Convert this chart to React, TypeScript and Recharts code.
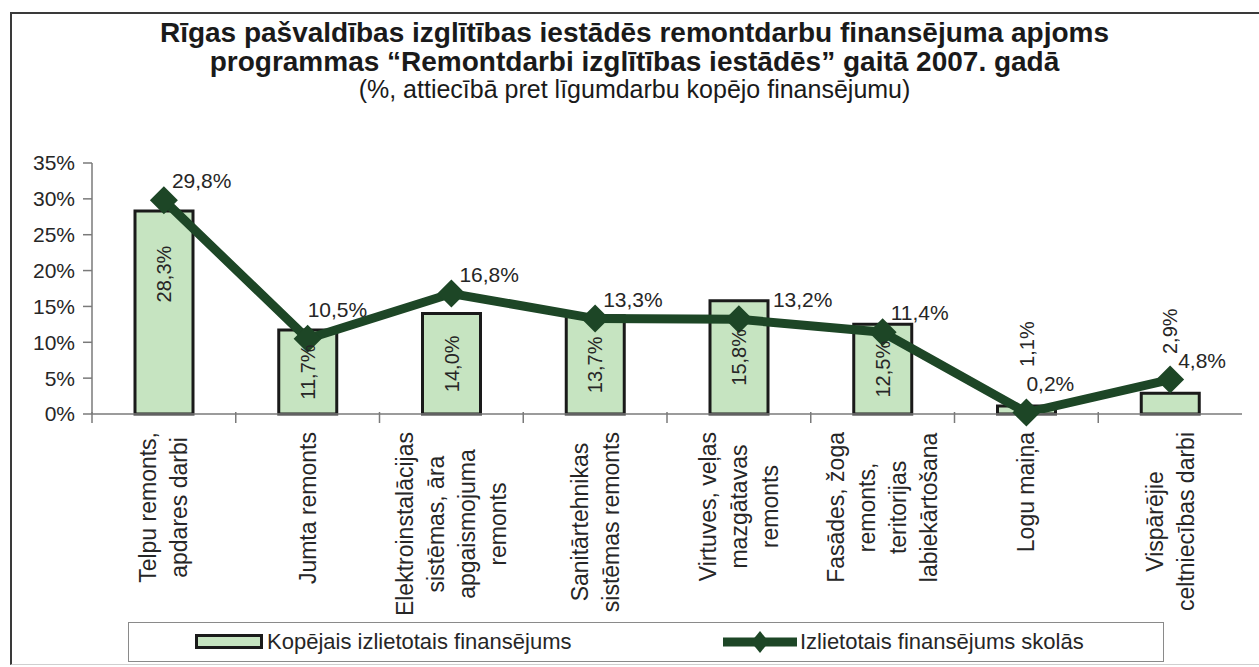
import React from 'react';
import { ComposedChart, Bar, Line, XAxis, YAxis, LabelList } from 'recharts';

const categories: string[][] = [
  ['Telpu remonts,', 'apdares darbi'],
  ['Jumta remonts'],
  ['Elektroinstalācijas', 'sistēmas, āra', 'apgaismojuma', 'remonts'],
  ['Sanitārtehnikas', 'sistēmas remonts'],
  ['Virtuves, veļas', 'mazgātavas', 'remonts'],
  ['Fasādes, žoga', 'remonts,', 'teritorijas', 'labiekārtošana'],
  ['Logu maiņa'],
  ['Vispārējie', 'celtniecības darbi'],
];
const totalShare = [28.3, 11.7, 14.0, 13.7, 15.8, 12.5, 1.1, 2.9];
const schoolShare = [29.8, 10.5, 16.8, 13.3, 13.2, 11.4, 0.2, 4.8];
const yTicks = [0, 5, 10, 15, 20, 25, 30, 35];

const seriesNames = ['Kopējais izlietotais finansējums', 'Izlietotais finansējums skolās'];

const data = categories.map((lines, i) => ({
  name: lines.join(' '),
  total: totalShare[i],
  school: schoolShare[i],
}));

const W = 1259;
const H = 667;
const PLOT_LEFT = 92;
const PLOT_RIGHT = 1242;
const PLOT_TOP = 163;
const PLOT_BOTTOM = 414;
const X_AXIS_H = 200;
const BAND = (PLOT_RIGHT - PLOT_LEFT) / categories.length;

const FONT = '"Liberation Sans", Arial, Helvetica, sans-serif';
const TEXT = '#262626';
const AXIS = '#7a7a7a';
const BAR_FILL = '#c6e4c1';
const LINE_COLOR = '#1d4626';

const fmt = (v: number) => v.toFixed(1).replace('.', ',') + '%';

let ctx: CanvasRenderingContext2D | null = null;
const measure = (s: string, size: number) => {
  if (!ctx && typeof document !== 'undefined') {
    ctx = document.createElement('canvas').getContext('2d');
  }
  if (!ctx) return s.length * size * 0.5;
  ctx.font = `${size}px ${FONT}`;
  return ctx.measureText(s).width;
};

const XTick = (props: any) => {
  const { x, index } = props;
  const lines = categories[index] || [String(props.payload?.value)];
  const size = 23;
  const lineH = 31;
  const longest = Math.max(...lines.map((l) => measure(l, size)));
  const cy = PLOT_BOTTOM + 18 + longest / 2;
  const n = lines.length;
  const bx = x - BAND / 2;
  return (
    <g>
      <line x1={bx} x2={bx} y1={PLOT_BOTTOM - 2} y2={PLOT_BOTTOM + 9} stroke={AXIS} strokeWidth={1.5} />
      <text
        transform={`translate(${x},${cy}) rotate(-90)`}
        textAnchor="middle"
        fontSize={size}
        fontFamily={FONT}
        fill={TEXT}
      >
        {lines.map((l, i) => (
          <tspan key={i} x={0} y={(i - (n - 1) / 2) * lineH + 8}>
            {l}
          </tspan>
        ))}
      </text>
    </g>
  );
};

const BarValue = (props: any) => {
  const { x, y, width, height, value } = props;
  const cx = x + width / 2;
  const cy = height > 60 ? Math.min(y + height / 2, y + 63) : y - 62;
  return (
    <text
      transform={`translate(${cx + 7},${cy}) rotate(-90)`}
      textAnchor="middle"
      fontSize={20}
      fontFamily={FONT}
      fill={TEXT}
    >
      {fmt(value)}
    </text>
  );
};

// line labels sit up-right of the point; lifted at dips, pushed past a taller bar
const LineValue = (props: any) => {
  const { x, y, value, index } = props;
  const prev = schoolShare[index - 1];
  const next = schoolShare[index + 1];
  const dip = prev != null && next != null && prev > value && next > value;
  let dx = 8;
  let dy = -12;
  if (dip) {
    dx = 0;
    dy = -22;
  } else if (totalShare[index] - value > 1.5) {
    dx = 34;
  }
  return (
    <text x={x + dx} y={y + dy} fontSize={21} fontFamily={FONT} fill={TEXT}>
      {fmt(value)}
    </text>
  );
};

const Diamond = (props: any) => {
  const { cx, cy } = props;
  if (cx == null || cy == null) return <g />;
  const r = 14;
  return <path d={`M${cx},${cy - r}L${cx + r},${cy}L${cx},${cy + r}L${cx - r},${cy}Z`} fill={LINE_COLOR} />;
};

const LegendBox = () => (
  <div
    style={{
      position: 'absolute',
      left: 128,
      top: 622,
      width: 1036,
      height: 40,
      boxSizing: 'border-box',
      border: '1.5px solid #8a8a8a',
      fontFamily: FONT,
      fontSize: 22,
      color: TEXT,
    }}
  >
    <div style={{ position: 'absolute', left: 66, top: 11, width: 68, height: 15, background: BAR_FILL, border: '3px solid #1a1a1a', boxSizing: 'border-box' }} />
    <span style={{ position: 'absolute', left: 138, top: 6 }}>{seriesNames[0]}</span>
    <svg style={{ position: 'absolute', left: 594, top: 4 }} width={74} height={30}>
      <line x1={0} x2={74} y1={15} y2={15} stroke={LINE_COLOR} strokeWidth={9} />
      <path d="M37,4L46,15L37,26L28,15Z" fill={LINE_COLOR} />
    </svg>
    <span style={{ position: 'absolute', left: 671, top: 6 }}>{seriesNames[1]}</span>
  </div>
);

const App: React.FC = () => {
  return (
    <div style={{ position: 'absolute', left: 0, top: 0, width: W, height: H, background: '#fff', overflow: 'hidden' }}>
      <div
        style={{
          position: 'absolute',
          left: 10,
          top: 12,
          width: W,
          height: 650,
          borderLeft: '2px solid #3a3a3a',
          borderTop: '2px solid #3a3a3a',
          borderBottom: '1px solid #cfcfcf',
        }}
      />
      <div style={{ position: 'absolute', left: 10, top: 18, width: W - 10, textAlign: 'center', fontFamily: FONT, color: '#1a1a1a' }}>
        <div style={{ fontSize: 28, fontWeight: 'bold', lineHeight: '29px' }}>
          Rīgas pašvaldības izglītības iestādēs remontdarbu finansējuma apjoms
        </div>
        <div style={{ fontSize: 28, fontWeight: 'bold', lineHeight: '29px' }}>
          programmas “Remontdarbi izglītības iestādēs” gaitā 2007. gadā
        </div>
        <div style={{ fontSize: 25, lineHeight: '26px' }}>(%, attiecībā pret līgumdarbu kopējo finansējumu)</div>
      </div>
      <ComposedChart
        width={W}
        height={H}
        data={data}
        margin={{ top: PLOT_TOP, right: W - PLOT_RIGHT, bottom: H - PLOT_BOTTOM - X_AXIS_H, left: 0 }}
        style={{ position: 'absolute', left: 0, top: 0 }}
      >
        <XAxis
          dataKey="name"
          height={X_AXIS_H}
          interval={0}
          tickLine={false}
          axisLine={{ stroke: AXIS, strokeWidth: 1.5 }}
          tick={<XTick />}
        />
        <XAxis xAxisId="top" dataKey="name" orientation="top" height={0} tick={false} tickLine={false} axisLine={{ stroke: AXIS, strokeWidth: 1.5 }} />
        <YAxis
          width={PLOT_LEFT}
          domain={[0, 35]}
          ticks={yTicks}
          interval={0}
          tickFormatter={(v: number) => `${v}%`}
          tickSize={9}
          tickMargin={8}
          tickLine={{ stroke: AXIS, strokeWidth: 1.5 }}
          axisLine={{ stroke: AXIS, strokeWidth: 1.5 }}
          tick={{ fontSize: 21, fontFamily: FONT, fill: TEXT }}
        />
        <YAxis yAxisId="right" orientation="right" width={0} domain={[0, 35]} tick={false} tickLine={false} axisLine={{ stroke: AXIS, strokeWidth: 1.5 }} />
        <Bar dataKey="total" name={seriesNames[0]} barSize={58} fill={BAR_FILL} stroke="#1a1a1a" strokeWidth={3} isAnimationActive={false}>
          <LabelList dataKey="total" content={<BarValue />} />
        </Bar>
        <Line
          dataKey="school"
          name={seriesNames[1]}
          type="linear"
          stroke={LINE_COLOR}
          strokeWidth={9}
          dot={<Diamond />}
          activeDot={false}
          isAnimationActive={false}
        >
          <LabelList dataKey="school" content={<LineValue />} />
        </Line>
      </ComposedChart>
      <LegendBox />
    </div>
  );
};

export default App;
